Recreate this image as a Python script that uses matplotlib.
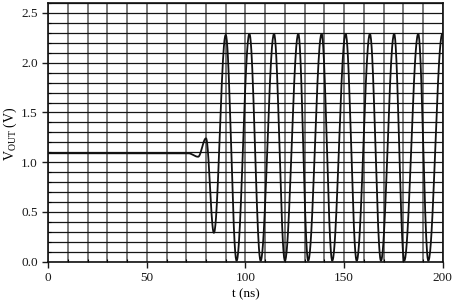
import numpy as np
from matplotlib import pyplot as plt
from matplotlib.ticker import MultipleLocator

# extrema of the waveform (t in ns, V in volts)
t_pts = [0, 71, 76, 80, 84, 90, 95.5, 102, 107.7, 114.5, 120, 126.8, 131.8,
         138.6, 144, 150.8, 156.4, 163.1, 168.7, 175.4, 180.5, 187.6, 192.7, 199.8]
v_pts = [1.09, 1.09, 1.055, 1.24, 0.29, 2.28, 0.01, 2.29, 0.01, 2.29, 0.01, 2.29, 0.01,
         2.29, 0.01, 2.29, 0.01, 2.29, 0.01, 2.29, 0.01, 2.29, 0.01, 2.29]

x_ticks = [0, 50, 100, 150, 200]
y_ticks = [0.0, 0.5, 1.0, 1.5, 2.0, 2.5]

plt.rcParams['font.family'] = ['Liberation Serif', 'DejaVu Serif']
plt.rcParams['mathtext.fontset'] = 'custom'
plt.rcParams['mathtext.rm'] = 'Liberation Serif'
plt.rcParams['mathtext.it'] = 'Liberation Serif:italic'

# smooth rendering between consecutive extrema (half cosine segments)
tt = []
vv = []
for i in range(len(t_pts) - 1):
    s = np.linspace(0, 1, 40)
    tt.extend(t_pts[i] + (t_pts[i + 1] - t_pts[i]) * s)
    vv.extend(v_pts[i] + (v_pts[i + 1] - v_pts[i]) * (1 - np.cos(np.pi * s)) / 2)

fig = plt.figure(figsize=(4.59, 3.05), dpi=100)
ax = fig.add_axes([0.105, 0.142, 0.8595, 0.848])

ax.xaxis.set_major_locator(MultipleLocator(50))
ax.xaxis.set_minor_locator(MultipleLocator(10))
ax.yaxis.set_major_locator(MultipleLocator(0.5))
ax.yaxis.set_minor_locator(MultipleLocator(0.1))
ax.xaxis.grid(True, which='both', color='#707070', lw=1.3)
ax.yaxis.grid(True, which='both', color='#151515', lw=0.9)
ax.set_axisbelow(True)

ax.plot(tt, vv, color='#111111', lw=1.3)

ax.set_xlim(0, 200)
ax.set_ylim(0, 2.6)
ax.set_xticks(x_ticks)
ax.set_yticks(y_ticks)
ax.set_yticklabels([f'{v:.1f}' for v in y_ticks])
ax.tick_params(which='major', direction='out', length=4, width=1, labelsize=9.5, colors='#1a1a1a')
ax.tick_params(which='minor', direction='in', length=2.5, width=0.8)
for sp in ax.spines.values():
    sp.set_linewidth(1.2)
    sp.set_color('#111111')

ax.set_xlabel('t (ns)', fontsize=9.5, labelpad=3)
fig.text(0.022, 0.56, r'V$_{\mathrm{OUT}}$ (V)', fontsize=10, rotation=90,
         ha='center', va='center')

fig.savefig('out.png', dpi=100)
